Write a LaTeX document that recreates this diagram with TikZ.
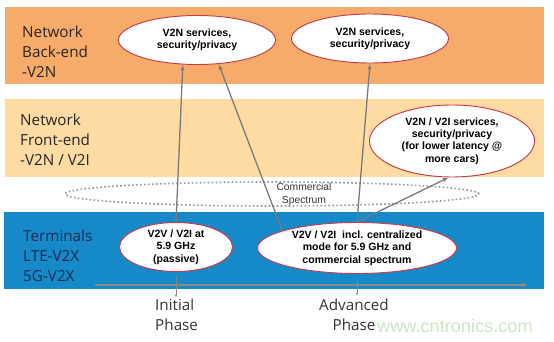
\documentclass[tikz,border=0pt]{standalone}
\usepackage{fontspec}
\setmainfont{Open Sans}
\newfontfamily\arialfont{Liberation Sans}
\usepackage{xcolor}
\definecolor{bandBack}{HTML}{F7AB6A}
\definecolor{bandFront}{HTML}{FDDBA2}
\definecolor{bandTerm}{HTML}{1689C8}
\definecolor{ovalBorder}{HTML}{C63A45}
\definecolor{arrowGray}{HTML}{7A7A7A}
\definecolor{timeGray}{HTML}{8E8A80}
\definecolor{termText}{HTML}{1B2A52}
\definecolor{markGreen}{HTML}{CDE5C6}
\usetikzlibrary{shapes.geometric,arrows.meta}

\begin{document}
\begin{tikzpicture}[x=0.03cm, y=-0.03cm,
  oval/.style={ellipse, draw=ovalBorder, line width=0.8pt, fill=white, inner sep=0pt, align=center, font=\arialfont\bfseries\fontsize{9}{10.5}\selectfont},
  layer/.style={anchor=north west, inner sep=0pt, align=left, text=black!85, font=\fontsize{13}{17}\selectfont},
  phase/.style={anchor=north, inner sep=0pt, align=center, text=black!80, font=\fontsize{13}{17}\selectfont},
  link/.style={arrowGray, line width=1.1pt, -{Latex[length=5pt,width=3.5pt]}}]
  \useasboundingbox (0,0) rectangle (554,342);
  % the three layers
  \fill[bandBack] (5,7) rectangle (544,84);
  \fill[bandFront] (5,99) rectangle (544,177);
  \fill[bandTerm] (4,212) rectangle (544,289);
  \node[layer] (back) at (22,26) {Network\\Back-end\\-V2N};
  \node[layer] (front) at (20,114) {Network\\Front-end\\-V2N / V2I};
  \node[layer, text=termText] (term) at (23,230) {Terminals\\LTE-V2X\\5G-V2X};

  % commercial spectrum
  \node[ellipse, draw=black!40, dotted, line width=1.4pt, minimum width=12.42cm, minimum height=0.72cm] (spec) at (272,194) {};
  \node[align=center, inner sep=0pt, text=black!80, font=\arialfont\fontsize{8.8}{11}\selectfont] (speclabel) at (304,194) {Commercial\\Spectrum};

  % services
  \node[oval, minimum width=4.71cm, minimum height=1.47cm] (b1) at (197,40) {V2N services,\\security/privacy};
  \node[oval, minimum width=4.71cm, minimum height=1.47cm] (b2) at (370,38.5) {V2N services,\\security/privacy};
  \node[oval, minimum width=4.95cm, minimum height=2.16cm] (f1) at (452,141) {V2N / V2I services,\\security/privacy\\(for lower latency @\\more cars)};
  \node[oval, minimum width=3.39cm, minimum height=1.47cm] (t1) at (176,247) {V2V / V2I at\\5.9 GHz\\(passive)};
  \node[oval, minimum width=5.97cm, minimum height=1.53cm] (t2) at (357,248) {V2V / V2I\ \ incl. centralized\\mode for 5.9 GHz and\\commercial spectrum};

  \draw[link] (t1.north) -- (b1.240);
  \draw[link] (t2.167) -- (b1.312);
  \draw[link] (t2.north) -- (b2.south);
  \draw[link] (t2.north) -- (f1.265);

  % time line
  \coordinate (tstart) at (95,285);
  \coordinate (tend) at (528,285);
  \draw[timeGray, line width=1.2pt, -{Latex[length=5pt,width=4pt]}] (tstart) -- (tend);
  \draw[timeGray, line width=0.8pt, -{Latex[length=2.5pt,width=2pt]}] ([yshift=-4pt]t1.south) -- ++(0,21);
  \draw[timeGray, line width=0.8pt, -{Latex[length=2.5pt,width=2pt]}] ([yshift=-4pt]t2.south) -- ++(0,17);
  \node[phase, anchor=north west, align=left] (initial) at (155,299) {Initial\\Phase};
  \node[phase] (advanced) at (354,299) {Advanced\\Phase};

  \node[anchor=base west, inner sep=0pt, text=markGreen, font=\arialfont\fontsize{15.5}{17}\selectfont] (mark) at (377,332) {www.cntronics.com};
\end{tikzpicture}
\end{document}
